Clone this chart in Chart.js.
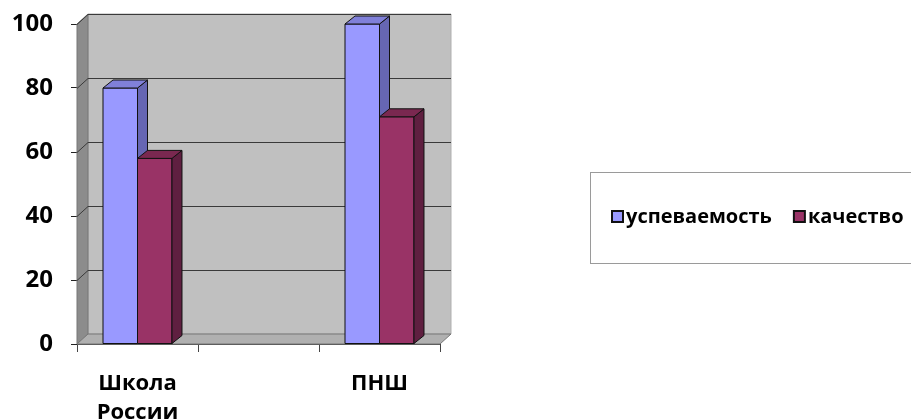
<!DOCTYPE html>
<html lang="ru">
<head>
  <meta charset="UTF-8" />
  <title>успеваемость и качество</title>
  <script src="https://cdn.jsdelivr.net/npm/chart.js"></script>
  <style>
    html, body { margin: 0; padding: 0; background: #fff; }
    #wrap { width: 911px; height: 420px; position: relative; }
  </style>
</head>
<body>
  <div id="wrap"><canvas id="myChart"></canvas></div>

  <script>
    // данные
    const categories = [['Школа', 'России'], '', 'ПНШ'];
    const uspevaemost = [80, null, 100];
    const kachestvo = [58, null, 71];
    const seriesNames = ['успеваемость', 'качество'];
    const yTicks = [0, 20, 40, 60, 80, 100];

    const FONT = '"Open Sans", "Noto Sans", sans-serif';
    // цвета: лицевая грань, боковая, верхняя
    const faces = [
      { front: '#9999ff', side: '#6666b3', top: '#8080d9' },
      { front: '#993366', side: '#5f1f40', top: '#7a2850' }
    ];
    const DX = 11, DY = -10;   // глубина стенок
    const BDX = 10, BDY = -8;  // глубина столбиков

    function poly(ctx, pts, fill, stroke) {
      ctx.beginPath();
      ctx.moveTo(pts[0][0], pts[0][1]);
      for (let i = 1; i < pts.length; i++) ctx.lineTo(pts[i][0], pts[i][1]);
      ctx.closePath();
      if (fill) { ctx.fillStyle = fill; ctx.fill(); }
      if (stroke) { ctx.strokeStyle = stroke; ctx.lineWidth = 1; ctx.stroke(); }
    }

    // стенки, пол и сетка в стиле Excel 3D
    const walls = {
      id: 'walls',
      beforeDatasetsDraw(chart) {
        const ctx = chart.ctx;
        const a = chart.chartArea;
        const y = chart.scales.y;
        ctx.save();
        // задняя стенка
        poly(ctx, [[a.left + DX, a.top + DY], [a.right + DX, a.top + DY],
                   [a.right + DX, a.bottom + DY], [a.left + DX, a.bottom + DY]], '#c0c0c0', '#b0b0b0');
        // левая стенка
        poly(ctx, [[a.left, a.top], [a.left + DX, a.top + DY],
                   [a.left + DX, a.bottom + DY], [a.left, a.bottom]], '#8c8c8c', '#777');
        // пол
        poly(ctx, [[a.left, a.bottom], [a.right, a.bottom],
                   [a.right + DX, a.bottom + DY], [a.left + DX, a.bottom + DY]], '#b0b0b0', '#777');
        // линии сетки
        ctx.strokeStyle = '#3a3a3a';
        ctx.lineWidth = 1;
        yTicks.forEach(v => {
          if (v === 0) return;
          const py = Math.round(y.getPixelForValue(v)) + 0.5;
          ctx.beginPath();
          ctx.moveTo(a.left, py);
          ctx.lineTo(a.left + DX, py + DY);
          ctx.lineTo(a.right + DX, py + DY);
          ctx.stroke();
        });
        ctx.restore();
      },
      afterDatasetsDraw(chart) {
        const ctx = chart.ctx;
        ctx.save();
        const n = categories.length;
        for (let i = 0; i < n; i++) {
          for (let d = 0; d < chart.data.datasets.length; d++) {
            const bar = chart.getDatasetMeta(d).data[i];
            if (!bar || chart.data.datasets[d].data[i] == null) continue;
            const p = bar.getProps(['x', 'y', 'base', 'width']);
            const l = p.x - p.width / 2, r = p.x + p.width / 2;
            const f = faces[d];
            poly(ctx, [[l, p.y], [r, p.y], [r, p.base], [l, p.base]], f.front, '#111');
            poly(ctx, [[r, p.y], [r + BDX, p.y + BDY], [r + BDX, p.base + BDY], [r, p.base]], f.side, '#111');
            poly(ctx, [[l, p.y], [l + BDX, p.y + BDY], [r + BDX, p.y + BDY], [r, p.y]], f.top, '#111');
          }
        }
        ctx.restore();
      },
      afterDraw(chart) {
        // легенда справа в рамке
        const ctx = chart.ctx;
        ctx.save();
        ctx.strokeStyle = '#9a9a9a';
        ctx.lineWidth = 1;
        ctx.strokeRect(590.5, 172.5, 340, 91);
        ctx.font = 'bold 20px ' + FONT;
        ctx.textBaseline = 'middle';
        let x = 612;
        const ly = 217;
        seriesNames.forEach((name, d) => {
          ctx.fillStyle = faces[d].front;
          ctx.fillRect(x, ly - 6, 11, 11);
          ctx.strokeStyle = '#111';
          ctx.lineWidth = 2;
          ctx.strokeRect(x, ly - 6, 11, 11);
          ctx.fillStyle = '#000';
          ctx.fillText(name, x + 14, ly);
          x += 14 + ctx.measureText(name).width + 22;
        });
        ctx.restore();
      }
    };

    const ctx = document.getElementById('myChart').getContext('2d');
    new Chart(ctx, {
      type: 'bar',
      data: {
        labels: categories,
        datasets: [
          { label: seriesNames[0], data: uspevaemost, backgroundColor: faces[0].front },
          { label: seriesNames[1], data: kachestvo, backgroundColor: faces[1].front }
        ]
      },
      options: {
        responsive: true,
        maintainAspectRatio: false,
        animation: false,
        layout: { padding: { left: 0, top: 24, right: 471, bottom: 0 } },
        datasets: { bar: { categoryPercentage: 0.57, barPercentage: 1.0 } },
        plugins: { legend: { display: false }, tooltip: { enabled: false } },
        scales: {
          x: {
            afterFit(s) { s.height = 76; s.paddingLeft = 0; s.paddingRight = 0; },
            grid: { offset: true, drawOnChartArea: false, tickLength: 8, color: '#444' },
            border: { display: true, color: '#444' },
            ticks: {
              color: '#000', padding: 18, maxRotation: 0, autoSkip: false,
              font: { family: FONT, size: 22, weight: 'bold', lineHeight: 1.28 }
            }
          },
          y: {
            min: 0, max: 100,
            afterFit(s) { s.width = 77; s.paddingTop = 0; s.paddingBottom = 0; },
            afterBuildTicks(s) { s.ticks = yTicks.map(v => ({ value: v })); },
            grid: { drawOnChartArea: false, tickLength: 6, color: '#222' },
            border: { display: false },
            ticks: {
              color: '#000', padding: 18,
              font: { family: FONT, size: 24, weight: 'bold' }
            }
          }
        }
      },
      plugins: [walls]
    });
  </script>
</body>
</html>
